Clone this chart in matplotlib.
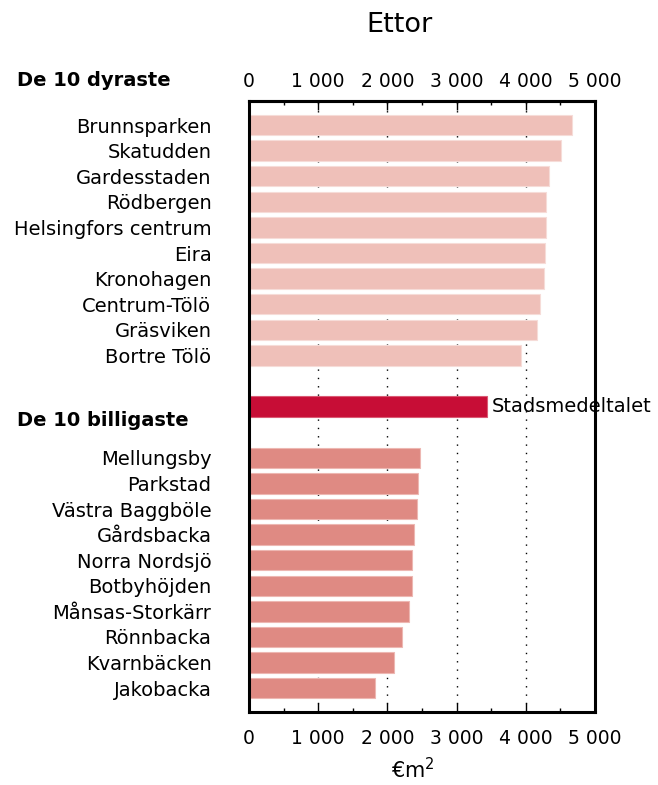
import matplotlib
matplotlib.use("Agg")
import matplotlib.pyplot as plt
from matplotlib.ticker import FuncFormatter, MultipleLocator

# De 10 dyraste / De 10 billigaste, pris per m2 (ettor)
dyra_omr = ["Brunnsparken", "Skatudden", "Gardesstaden", "Rödbergen",
            "Helsingfors centrum", "Eira", "Kronohagen", "Centrum-Tölö",
            "Gräsviken", "Bortre Tölö"]
dyra_pris = [4663, 4513, 4335, 4292, 4288, 4272, 4258, 4205, 4167, 3931]

medel_namn = "Stadsmedeltalet"
medel_pris = 3435

billiga_omr = ["Mellungsby", "Parkstad", "Västra Baggböle", "Gårdsbacka",
               "Norra Nordsjö", "Botbyhöjden", "Månsas-Storkärr", "Rönnbacka",
               "Kvarnbäcken", "Jakobacka"]
billiga_pris = [2476, 2447, 2423, 2389, 2360, 2355, 2317, 2206, 2100, 1825]

ticks = [0, 1000, 2000, 3000, 4000, 5000]

plt.rcParams['font.family'] = ['DejaVu Sans']

fig = plt.figure(figsize=(6.58, 7.85), dpi=100)
ax = fig.add_axes([0.3784, 0.093, 0.5259, 0.7787])

pos_dyra = list(range(len(dyra_omr)))
pos_medel = len(dyra_omr) + 1
pos_billiga = [pos_medel + 2 + i for i in range(len(billiga_omr))]

ax.barh(pos_dyra, dyra_pris, height=0.8, color="#EFC0B9",
        edgecolor="#F6DCD8", linewidth=0.8, zorder=2)
ax.barh([pos_medel], [medel_pris], height=0.8, color="#C70D36",
        edgecolor="#DA5A74", linewidth=0.8, zorder=2)
ax.barh(pos_billiga, billiga_pris, height=0.8, color="#DF8A83",
        edgecolor="#EDB7B2", linewidth=0.8, zorder=2)

ax.text(medel_pris + 70, pos_medel, medel_namn, va="center", ha="left",
        fontsize=14, clip_on=False, zorder=3)

ax.set_xlim(ticks[0], ticks[-1])
ax.set_ylim(22.93, -0.95)

ax.set_yticks(pos_dyra + pos_billiga)
ax.set_yticklabels(dyra_omr + billiga_omr, fontsize=14)
ax.tick_params(axis="y", length=0, pad=27)

fmt = FuncFormatter(lambda v, p: f"{int(v):,}".replace(",", " "))
ax.set_xticks(ticks)
ax.xaxis.set_minor_locator(MultipleLocator(500))
ax.xaxis.set_major_formatter(fmt)
ax.tick_params(axis="x", which="major", direction="in", length=6.5,
               width=1, labelsize=13.5, pad=12)
ax.tick_params(axis="x", which="minor", direction="in", length=3, width=1)

top = ax.secondary_xaxis("top")
top.set_xticks(ticks)
top.xaxis.set_minor_locator(MultipleLocator(500))
top.xaxis.set_major_formatter(fmt)
top.tick_params(axis="x", which="major", direction="in", length=6.5,
                width=1, labelsize=13.5, pad=7)
top.tick_params(axis="x", which="minor", direction="in", length=3, width=1)
top.spines["top"].set_linewidth(2.2)

for x in ticks[1:-1]:
    ax.axvline(x, color="black", linewidth=1.0, linestyle=(0, (1, 5)), zorder=1)

for s in ax.spines.values():
    s.set_linewidth(2.2)

ax.set_xlabel("€m$^2$", fontsize=15, labelpad=7, x=0.474)

fig.text(0.607, 0.968, "Ettor", ha="center", va="center", fontsize=19.5)
fig.text(0.026, 0.898, "De 10 dyraste", ha="left", va="center",
         fontsize=14, fontweight="bold")
fig.text(0.026, 0.4637, "De 10 billigaste", ha="left", va="center",
         fontsize=14, fontweight="bold")

fig.savefig("out.png", dpi=100)
